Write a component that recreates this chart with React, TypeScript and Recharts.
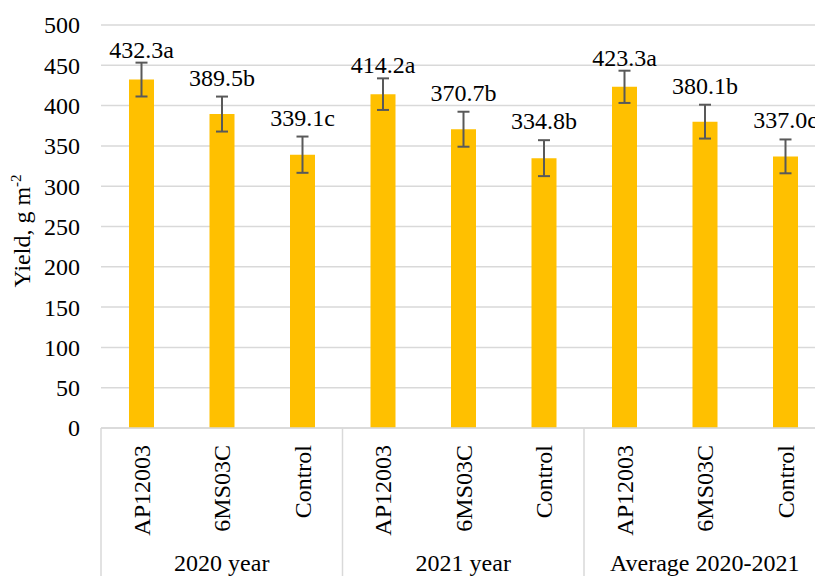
import React from 'react';
import { BarChart, Bar, XAxis, YAxis, CartesianGrid, ErrorBar, LabelList } from 'recharts';

const categories = ['AP12003', '6MS03C', 'Control', 'AP12003', '6MS03C', 'Control', 'AP12003', '6MS03C', 'Control'];
const groups = ['2020 year', '2021 year', 'Average 2020-2021'];
const yields = [432.3, 389.5, 339.1, 414.2, 370.7, 334.8, 423.3, 380.1, 337.0];
const errors = [21, 21.7, 22.5, 19.6, 21.7, 22.3, 20, 21, 21];
const letters = ['a', 'b', 'c', 'a', 'b', 'b', 'a', 'b', 'c'];
const yTicks = [0, 50, 100, 150, 200, 250, 300, 350, 400, 450, 500];

const data = categories.map((name, i) => ({
  name,
  value: yields[i],
  err: errors[i],
  label: yields[i].toFixed(1) + letters[i],
}));

const FONT = 'Liberation Serif';
const TEXT_STYLE: React.CSSProperties = { fontFamily: "'Liberation Serif', 'Times New Roman', Times, serif", fontSize: 24 };
const LINE = '#D9D9D9';

const XTick = (props: any) => {
  const { x, y, payload } = props;
  const i: number = payload.index ?? props.index;
  const half: number = payload.offset ?? 40.25;
  const ty = y + 17;
  return (
    <g>
      <text
        x={x}
        y={ty}
        dy="0.35em"
        transform={`rotate(-90, ${x}, ${ty})`}
        textAnchor="end"
        style={TEXT_STYLE}
        fill="#000"
      >
        {payload.value}
      </text>
      {i % 3 === 0 && (
        <line x1={x - half} x2={x - half} y1={y} y2={y + 148} stroke={LINE} strokeWidth={1.5} />
      )}
      {i % 3 === 1 && (
        <text x={x} y={y + 143} textAnchor="middle" style={TEXT_STYLE} fill="#000">
          {groups[Math.floor(i / 3)]}
        </text>
      )}
    </g>
  );
};

const ValueLabel = (props: any) => {
  const { x, y, width, height, value, index } = props;
  const v = yields[index];
  const pxPer = height / v;
  const errTop = y - errors[index] * pxPer;
  const gap = index % 3 === 0 ? 5 : 11;
  return (
    <text
      x={x + width / 2}
      y={errTop - gap}
      textAnchor="middle"
      style={TEXT_STYLE}
      fill="#000"
    >
      {value}
    </text>
  );
};

const YTick = (props: any) => {
  const { x, y, payload } = props;
  return (
    <text x={x} y={y} dy="0.35em" textAnchor="end" style={TEXT_STYLE} fill="#000">
      {payload.value}
    </text>
  );
};

const YLabel = () => (
  <text
    x={22}
    y={231}
    dy="0.35em"
    transform="rotate(-90, 22, 231)"
    textAnchor="middle"
    style={TEXT_STYLE}
    fill="#000"
  >
    Yield, g m
    <tspan dy="-9" style={{ fontSize: 15 }}>-2</tspan>
  </text>
);

export default function App() {
  return (
    <div style={{ position: 'fixed', left: 0, top: 0, width: 815, height: 576, overflow: 'hidden', background: '#fff', fontFamily: FONT }}>
      <BarChart
        width={830}
        height={576}
        data={data}
        margin={{ top: 25, right: 4.5, bottom: 0, left: 0 }}
        barCategoryGap={0}
      >
        <CartesianGrid vertical={false} stroke={LINE} strokeWidth={1.5} />
        <XAxis
          dataKey="name"
          height={148}
          interval={0}
          tickLine={false}
          tickSize={0}
          tickMargin={0}
          axisLine={{ stroke: LINE, strokeWidth: 1.5 }}
          tick={<XTick />}
        />
        <YAxis
          width={101}
          domain={[0, 500]}
          ticks={yTicks}
          interval={0}
          axisLine={false}
          tickLine={false}
          tickSize={0}
          tickMargin={21}
          tick={<YTick />}
          label={{ content: () => <YLabel /> }}
        />
        <Bar dataKey="value" fill="#FFC000" barSize={25} isAnimationActive={false}>
          <ErrorBar dataKey="err" width={6} stroke="#595959" strokeWidth={2} direction="y" />
          <LabelList dataKey="label" content={<ValueLabel />} />
        </Bar>
      </BarChart>
    </div>
  );
}
